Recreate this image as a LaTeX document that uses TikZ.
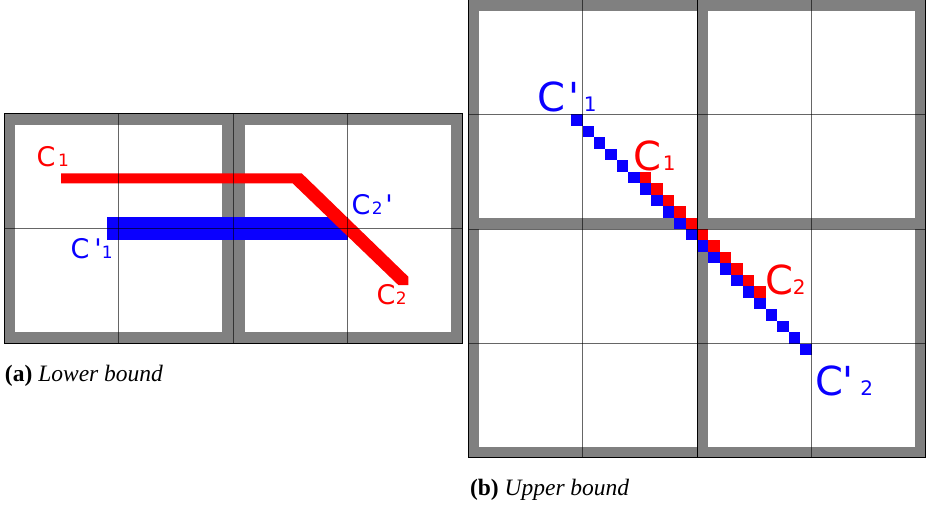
\documentclass[tikz,border=0pt]{standalone}
\usepackage{fontspec}
\setmainfont{Liberation Serif}
\newfontfamily\lblfont[Ligatures=TeXOff]{DejaVu Sans}
\newcommand\subtxt[2]{{\fontsize{#1}{#1}\selectfont #2}}
\definecolor{framegray}{RGB}{128,128,128}
\definecolor{pred}{RGB}{255,0,0}
\definecolor{pblue}{RGB}{10,0,255}
\begin{document}
\begin{tikzpicture}[x=1pt,y=-1pt,
  gridline/.style={draw=black,opacity=0.6,line width=1pt},
  edgeline/.style={draw=black,line width=1pt},
  leftlbl/.style={anchor=base west,inner sep=0pt,outer sep=0pt,font=\lblfont\fontsize{27}{27}\selectfont},
  rightlbl/.style={anchor=base west,inner sep=0pt,outer sep=0pt,font=\lblfont\fontsize{40}{40}\selectfont},
  captext/.style={anchor=base west,inner sep=0pt,outer sep=0pt,font=\fontsize{23.5}{23.5}\selectfont},
  bluesq/.style={fill=pblue},
  redsq/.style={fill=pred}]
\useasboundingbox (0,0) rectangle (926,508);
\fill[white] (0,0) rectangle (926,508);

% ---------- left panel (a) ----------
\fill[framegray] (4,114) rectangle (462,343);
\fill[white] (15.45,125.45) rectangle (222.05,331.55);
\fill[white] (244.95,125.45) rectangle (450.55,331.55);
% blue bar
\fill[pblue] (107.05,217.05) rectangle (347.5,239.95);
% red path
\fill[pred] (61,173.3) -- (301.7,173.3) -- (408.3,276.7) -- (408.3,285) -- (398.3,285) -- (292.6,183.3) -- (61,183.3) -- cycle;
% grid
\draw[gridline] (118.5,114) -- (118.5,343);
\draw[gridline] (233,114) -- (233,343);
\draw[gridline] (347.5,114) -- (347.5,343);
\draw[gridline] (4,228.5) -- (462,228.5);
\draw[edgeline] (4,114) rectangle (462,343);
% labels
\node[leftlbl,text=pred] (la1) at (36.5,167) {C\kern2.8pt\subtxt{17}{1}};
\node[leftlbl,text=pblue] (lb1) at (70.5,258) {C\kern5.1pt'\subtxt{17}{1}};
\node[leftlbl,text=pblue] (lb2) at (351.5,214) {C\kern1.5pt\subtxt{17}{2}\kern2.8pt'};
\node[leftlbl,text=pred] (la2) at (376.5,304) {C\kern0.5pt\subtxt{17}{2}};
\node[captext] (capA) at (5,381) {\textbf{(a)} \textit{Lower bound}};

% ---------- right panel (b) ----------
\fill[framegray] (468,0) rectangle (926,458);
\fill[white] (479.45,11.45) rectangle (697,217.55);
\fill[white] (708.45,11.45) rectangle (914.55,217.55);
\fill[white] (479.45,229) rectangle (697,446.55);
\fill[white] (708.45,229) rectangle (914.55,446.55);
% staircase squares
\foreach \i in {9,...,29}{
  \fill[bluesq] ({468+\i*11.45},{(\i+1)*11.45}) rectangle ++(11.45,11.45);
}
\foreach \i in {15,...,25}{
  \fill[redsq] ({468+\i*11.45},{\i*11.45}) rectangle ++(11.45,11.45);
}
% grid
\draw[gridline] (582.5,0) -- (582.5,458);
\draw[gridline] (811.5,0) -- (811.5,458);
\draw[edgeline] (697,0) -- (697,458);
\draw[gridline] (468,114.5) -- (926,114.5);
\draw[gridline] (468,229) -- (926,229);
\draw[gridline] (468,343.5) -- (926,343.5);
\draw[edgeline] (468,0) rectangle (925.5,457.5);
% labels
\node[rightlbl,text=pblue] (rb1) at (537,112) {C\kern4pt'\kern4pt\subtxt{20}{1}};
\node[rightlbl,text=pred] (ra1) at (633,170) {C\kern2pt\subtxt{20}{1}};
\node[rightlbl,text=pred] (ra2) at (765,294) {C\subtxt{20}{2}};
\node[rightlbl,text=pblue] (rb2) at (815,395) {C'\kern6.5pt\subtxt{20}{2}};
\node[captext] (capB) at (470,495) {\textbf{(b)} \textit{Upper bound}};
\end{tikzpicture}
\end{document}
